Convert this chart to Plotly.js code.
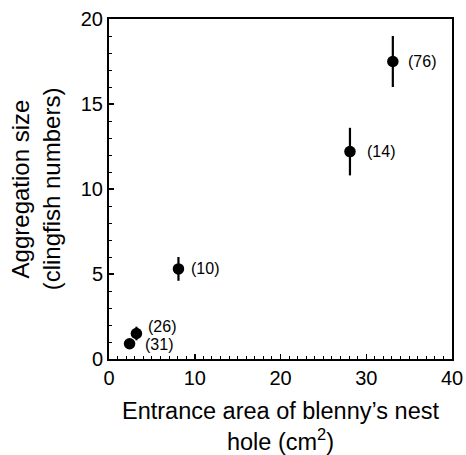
<!DOCTYPE html>
<html>
<head>
<meta charset="utf-8">
<script src="https://cdn.plot.ly/plotly-3.0.1.min.js"></script>
<style>html,body{margin:0;padding:0;background:#fff;}#chart{width:466px;height:455px;}</style>
</head>
<body>
<div id="chart"></div>
<script>
const entranceArea = [2.4, 3.2, 8.1, 28.1, 33.1];
const aggregationSize = [0.9, 1.5, 5.3, 12.2, 17.5];
const errorSize = [0.2, 0.4, 0.7, 1.4, 1.5];
const sampleLabels = ['(31)', '(26)', '(10)', '(14)', '(76)'];
const labelYShift = [-1, 7, 0, 0, 0];
const labelXShift = [13, 10, 11, 15, 13];

const FAM = 'Liberation Sans, Arial, sans-serif';

const trace = {
  x: entranceArea,
  y: aggregationSize,
  mode: 'markers',
  type: 'scatter',
  marker: {color: '#000', size: 11.5},
  error_y: {type: 'data', array: errorSize, visible: true, color: '#000', thickness: 2.2, width: 0},
  cliponaxis: false,
  showlegend: false
};

const annotations = sampleLabels.map((t, i) => ({
  x: entranceArea[i], y: aggregationSize[i], xref: 'x', yref: 'y',
  text: t, showarrow: false, xanchor: 'left', yanchor: 'middle',
  xshift: labelXShift[i], yshift: labelYShift[i],
  font: {family: FAM, size: 16, color: '#000'}
}));

const layout = {
  width: 466, height: 455,
  margin: {l: 109, r: 14, t: 19, b: 96},
  paper_bgcolor: '#fff', plot_bgcolor: '#fff',
  font: {family: FAM, color: '#000'},
  annotations: annotations,
  xaxis: {
    range: [0, 40], dtick: 10, tick0: 0,
    showgrid: false, zeroline: false,
    showline: true, linecolor: '#000', linewidth: 2, mirror: true,
    ticks: 'inside', ticklen: 5, tickwidth: 1.5, tickcolor: '#000',
    minor: {dtick: 1, ticks: 'inside', ticklen: 3, tickwidth: 1, tickcolor: '#000', showgrid: false},
    tickfont: {size: 20, family: FAM, color: '#000'},
    title: {text: 'Entrance area of blenny\u2019s nest<br>hole (cm<sup>2</sup>)', font: {size: 23.5, family: FAM, color: '#000'}, standoff: 15}
  },
  yaxis: {
    range: [0, 20], dtick: 5, tick0: 0,
    showgrid: false, zeroline: false,
    showline: true, linecolor: '#000', linewidth: 2, mirror: true,
    ticks: 'inside', ticklen: 5, tickwidth: 1.5, tickcolor: '#000',
    minor: {dtick: 1, ticks: 'inside', ticklen: 3, tickwidth: 1, tickcolor: '#000', showgrid: false},
    tickfont: {size: 20, family: FAM, color: '#000'},
    title: {text: 'Aggregation size<br>(clingfish numbers)', font: {size: 24, family: FAM, color: '#000'}, standoff: 13}
  }
};

Plotly.newPlot('chart', [trace], layout, {displayModeBar: false, staticPlot: true});
</script>
</body>
</html>
